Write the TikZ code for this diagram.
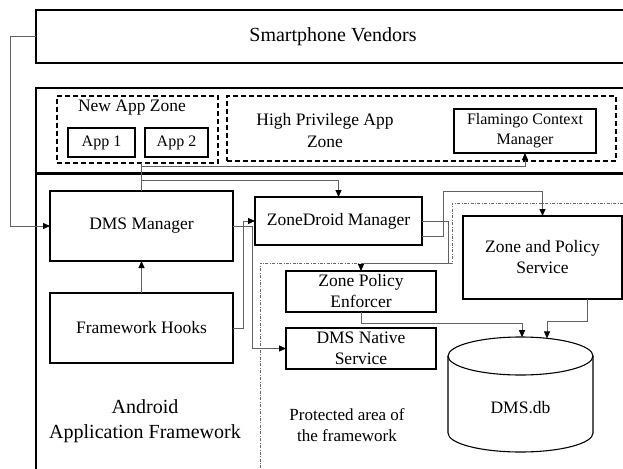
\documentclass[tikz,border=0pt]{standalone}
\usepackage{fontspec}
\setmainfont{Liberation Serif}
\usetikzlibrary{arrows.meta}
\begin{document}
\begin{tikzpicture}[x=1pt,y=-1pt,
  box/.style={draw=black,line width=1.1pt,inner sep=0pt,outer sep=0pt,align=center,
    font=\fontsize{17.5}{21}\selectfont},
  thickbox/.style={box,line width=2.4pt},
  zonebox/.style={draw=black,line width=1.2pt,dash pattern=on 5pt off 3pt,inner sep=0pt,outer sep=0pt},
  lbl/.style={inner sep=0pt,align=center,font=\fontsize{17.5}{21}\selectfont},
  conn/.style={draw=black!62,line width=0.9pt},
  arr/.style={conn,-{Triangle[length=7pt,width=6pt,color=black]}},
  protect/.style={draw=black!60,line width=0.6pt,dash pattern=on 3pt off 1.5pt on 0.8pt off 1.5pt}]
\useasboundingbox (0,0) rectangle (623,468);
\clip (0,0) rectangle (623,468);
% vendors
\node[box,minimum width=594pt,minimum height=53pt,anchor=north west] (vendors) at (36,10) {};
\node[lbl,font=\fontsize{20}{24}\selectfont] (vendtxt) at (333,37) {Smartphone Vendors};
% main frame
\draw[line width=1.3pt] (630,88) -- (36,88) -- (36,480);
\draw[line width=3pt] (36,173) -- (630,173);
% app zones
\node[zonebox,minimum width=161pt,minimum height=67pt] (newzone) at (137.5,129.5) {};
\node[lbl] (newzonetxt) at (132,108) {New App Zone};
\node[box,minimum width=67pt,minimum height=29pt,font=\fontsize{16}{19}\selectfont] (app1) at (101.5,142.5) {App 1};
\node[box,minimum width=63pt,minimum height=29pt,font=\fontsize{16}{19}\selectfont] (app2) at (176.5,142.5) {App 2};
\node[zonebox,minimum width=389pt,minimum height=65pt] (highzone) at (421.5,128.5) {};
\node[lbl,font=\fontsize{17.5}{22}\selectfont] (hightxt) at (325,131) {High Privilege App\\Zone};
\node[box,minimum width=142pt,minimum height=44pt,font=\fontsize{16}{20}\selectfont] (flamingo) at (525,131) {Flamingo Context\\Manager};
% framework
\node[thickbox,minimum width=183pt,minimum height=70pt] (dms) at (141.5,226) {DMS Manager};
\node[thickbox,minimum width=183pt,minimum height=70pt] (hooks) at (141.5,328) {Framework Hooks};
\node[lbl,font=\fontsize{20}{25}\selectfont] (androidtxt) at (145,421) {Android\\Application Framework};
\node[box,minimum width=167pt,minimum height=48pt] (zonedroid) at (338.5,221) {ZoneDroid Manager};
\node[box,minimum width=159pt,minimum height=83pt] (zps) at (542.5,257.5) {Zone and Policy\\Service};
\node[box,minimum width=150pt,minimum height=41pt] (zpe) at (361,291.5) {Zone Policy\\Enforcer};
\node[box,minimum width=150pt,minimum height=41pt] (native) at (361,348.5) {DMS Native\\Service};
% protected area
\draw[protect] (630,203) -- (452,203) -- (452,263) -- (260,263) -- (260,480);
\node[lbl,font=\fontsize{17}{21}\selectfont] (prottxt) at (347,425.5) {Protected area of\\the framework};
% database cylinder
\draw[line width=1.1pt,fill=white] (448,356) -- (448,433) arc[start angle=180,end angle=0,x radius=72.5,y radius=19] -- (593,356);
\draw[line width=1.1pt] (520.5,356) ellipse[x radius=72.5,y radius=19];
\node[lbl] (db) at (520.5,408) {DMS.db};
\coordinate (dbA) at (522,337.2);
\coordinate (dbB) at (547,338.4);
% connectors
\draw[arr] (vendors.west) -- ++(-26,0) |- (dms.west);
\draw[conn] (newzone.south -| dms.north) -- (dms.north);
\draw[arr] (dms.north |- 0,166) -| (flamingo.south);
\draw[arr] (dms.north |- 0,180) -| (zonedroid.north);
\draw[arr] (hooks.north) -- (dms.south);
\draw[arr] (hooks.east) -- ++(10,0) |- (zonedroid.west);
\draw[arr] (dms.east) -- ++(19,0) |- (native.west);
\draw[arr] (zonedroid.east) -- ++(26,0) -- ++(0,42) -| (zpe.north);
\draw[arr] ([yshift=-15pt]zonedroid.east) -- ++(21,0) -- (443,191) -| (zps.north);
\draw[arr] (zpe.south) -- ++(0,11) -| (dbA);
\draw[arr] ([xshift=44.5pt]zps.south) -- ++(0,22) -| (dbB);
\end{tikzpicture}
\end{document}
